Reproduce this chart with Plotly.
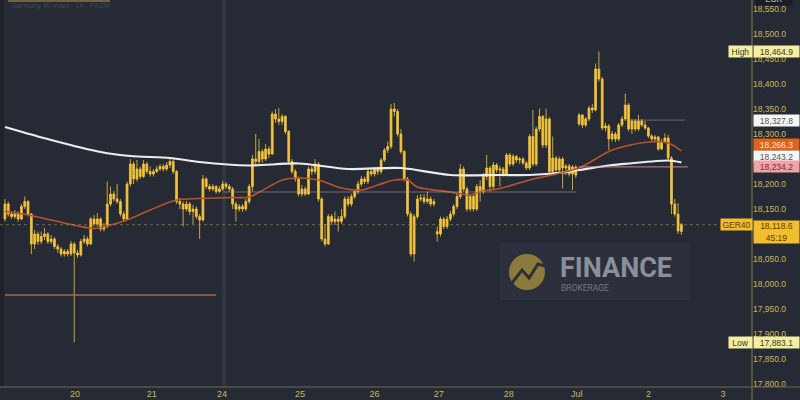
import plotly.graph_objects as go

# ---------------- data (hourly GER40 candles) ----------------
opens = [
    18130,18160,18140,18135,18140,18130,18155,18165,18140,18080,
    18100,18085,18095,18100,18085,18090,18075,18070,18060,18065,
    18060,18080,18062,18058,18085,18090,18080,18130,18120,18130,
    18110,18115,18160,18180,18170,18165,18140,18130,18200,18240,
    18210,18230,18215,18240,18225,18220,18225,18230,18235,18230,
    18238,18245,18225,18165,18160,18150,18160,18145,18150,18135,
    18128,18210,18195,18190,18195,18185,18190,18200,18195,18190,
    18160,18150,18155,18150,18165,18195,18250,18245,18265,18250,
    18270,18260,18340,18330,18325,18335,18305,18245,18225,18210,
    18180,18190,18180,18230,18225,18240,18170,18090,18080,18135,
    18125,18130,18125,18135,18170,18160,18175,18185,18200,18210,
    18205,18225,18220,18230,18225,18248,18268,18275,18350,18345,
    18300,18265,18210,18140,18060,18135,18170,18172,18165,18170,
    18160,18105,18100,18130,18115,18130,18140,18155,18175,18230,
    18190,18150,18175,18150,18195,18185,18215,18232,18195,18238,
    18228,18230,18220,18258,18240,18255,18248,18250,18242,18232,
    18295,18240,18310,18335,18278,18330,18225,18252,18228,18250,
    18232,18236,18220,18234,18320,18338,18318,18330,18352,18348,
    18430,18410,18312,18316,18290,18300,18290,18318,18330,18358,
    18310,18326,18310,18326,18318,18312,18296,18290,18294,18270,
    18285,18292,18252,18160,18140,18105,
]
highs = [
    18170,18165,18145,18148,18145,18160,18175,18168,18142,18108,
    18105,18105,18112,18104,18098,18094,18080,18074,18070,18070,
    18086,18084,18068,18090,18098,18095,18134,18138,18142,18134,
    18122,18205,18195,18186,18200,18170,18145,18205,18250,18245,
    18248,18235,18248,18244,18235,18230,18236,18240,18240,18244,
    18252,18250,18228,18172,18165,18166,18164,18158,18155,18140,
    18218,18214,18200,18200,18198,18196,18206,18204,18200,18194,
    18165,18160,18160,18170,18200,18258,18300,18290,18270,18280,
    18275,18345,18350,18352,18340,18338,18308,18250,18230,18215,
    18198,18195,18235,18236,18250,18244,18174,18120,18140,18140,
    18145,18136,18150,18175,18176,18180,18190,18206,18216,18215,
    18230,18230,18234,18235,18252,18272,18285,18360,18362,18350,
    18310,18268,18214,18145,18140,18178,18180,18180,18185,18175,
    18170,18115,18135,18134,18136,18146,18160,18180,18240,18235,
    18195,18180,18180,18200,18208,18222,18258,18236,18244,18242,
    18236,18234,18262,18262,18260,18258,18254,18254,18246,18300,
    18348,18315,18351,18338,18351,18334,18295,18256,18255,18254,
    18240,18240,18238,18238,18342,18340,18334,18356,18360,18441,
    18464.9,18414,18322,18320,18306,18304,18322,18336,18381,18362,
    18330,18330,18338,18330,18326,18314,18300,18298,18296,18290,
    18301,18298,18256,18170,18162,18122,
]
lows = [
    18125,18135,18130,18130,18125,18128,18150,18135,18060,18070,
    18078,18080,18088,18080,18080,18070,18062,18055,18055,18055,
    18056,17883.1,18052,18055,18080,18075,18078,18115,18115,18105,
    18105,18112,18155,18165,18160,18135,18125,18128,18195,18200,
    18205,18210,18212,18220,18215,18215,18222,18226,18225,18226,
    18232,18220,18160,18150,18115,18145,18138,18120,18130,18090,
    18125,18190,18185,18186,18180,18182,18186,18190,18185,18150,
    18125,18145,18144,18146,18160,18185,18238,18240,18242,18246,
    18252,18258,18322,18318,18318,18300,18240,18220,18205,18175,
    18175,18176,18178,18218,18220,18165,18085,18075,18078,18120,
    18118,18105,18120,18130,18155,18155,18170,18180,18195,18200,
    18200,18215,18215,18218,18220,18244,18262,18270,18335,18295,
    18260,18205,18135,18055,18045,18130,18165,18160,18160,18155,
    18155,18085,18095,18110,18110,18125,18135,18150,18170,18185,
    18145,18145,18145,18146,18165,18180,18208,18185,18190,18222,
    18195,18215,18216,18235,18236,18242,18240,18238,18228,18228,
    18235,18236,18305,18272,18272,18220,18220,18222,18224,18191,
    18218,18215,18188,18212,18316,18312,18314,18326,18342,18345,
    18405,18308,18305,18268,18285,18284,18286,18314,18326,18305,
    18300,18305,18306,18314,18308,18292,18286,18284,18266,18268,
    18282,18248,18140,18135,18100,18098,
]
closes = [
    18160,18140,18135,18140,18130,18155,18165,18140,18080,18100,
    18085,18095,18100,18085,18090,18075,18070,18060,18065,18060,
    18080,18062,18058,18085,18090,18080,18130,18120,18130,18110,
    18115,18160,18180,18170,18165,18140,18130,18200,18240,18210,
    18230,18215,18240,18225,18220,18225,18230,18235,18230,18238,
    18245,18225,18165,18160,18150,18160,18145,18150,18135,18128,
    18210,18195,18190,18195,18185,18190,18200,18195,18190,18160,
    18150,18155,18150,18165,18195,18250,18245,18265,18250,18270,
    18260,18340,18330,18325,18335,18305,18245,18225,18210,18180,
    18190,18180,18230,18225,18240,18170,18090,18080,18135,18125,
    18130,18125,18135,18170,18160,18175,18185,18200,18210,18205,
    18225,18220,18230,18225,18248,18268,18275,18350,18345,18300,
    18265,18210,18140,18060,18135,18170,18172,18165,18170,18160,
    18165,18100,18130,18115,18130,18140,18155,18175,18230,18190,
    18150,18175,18150,18195,18185,18215,18232,18195,18238,18228,
    18230,18220,18258,18240,18255,18248,18250,18242,18232,18295,
    18240,18310,18335,18278,18330,18225,18252,18228,18250,18232,
    18236,18220,18234,18218,18338,18318,18330,18352,18348,18430,
    18410,18312,18316,18290,18300,18290,18318,18330,18358,18310,
    18326,18310,18326,18318,18312,18296,18290,18294,18270,18285,
    18292,18252,18160,18140,18106,18118.6,
]
candle_idx = list(range(len(closes)))

# moving averages (read at sample candles)
ma_white_idx = [0, 14, 29, 38, 50, 59, 74, 89, 104, 120, 135, 150, 159, 169, 174, 184, 189, 201, 205]
ma_white_val = [18314, 18288, 18264, 18256, 18252, 18244, 18237, 18241, 18230, 18232, 18218,
                18218, 18218, 18223, 18228, 18238, 18241, 18247, 18243.2]
ma_orange_idx = [0, 7, 14, 23, 27, 32, 37, 44, 52, 59, 69, 74, 84, 89, 95, 102, 108, 113, 118,
                 122, 125, 135, 141, 144, 150, 159, 174, 184, 195, 201, 205]
ma_orange_val = [18145, 18138, 18128, 18115, 18111, 18118, 18128, 18148, 18168, 18171, 18173,
                 18174, 18208, 18212, 18208, 18192, 18188, 18198, 18208, 18208, 18194, 18184,
                 18178, 18185, 18191, 18208, 18232, 18268, 18284, 18282, 18266.3]

day_tick_idx = [21.2, 44.5, 65.8, 89.4, 112, 131.5, 152.7, 173.3, 195, 217.6]
day_tick_txt = ["20", "21", "24", "25", "26", "27", "28", "Jul", "2", "3"]

# price-scale ticks that are not hidden behind a value label
price_ticks = [17800, 17850, 17900, 17950, 18000, 18050, 18150, 18200, 18300,
               18350, 18400, 18450, 18500, 18550]

last_price = 18118.6
high_price = 18464.9
low_price = 17883.1
level_brown = 17978
level_grey = 18184
level_pink = 18234.2
level_white = 18327.8
ma_white_last = 18243.2
ma_orange_last = 18266.3

# ---------------- figure ----------------
W, H = 800, 400
ML, MR, MT, MB = 0, 48, 0, 13
PW, PH = W - ML - MR, H - MT - MB

def px(x):
    return x / PW

def py(y):
    return 1 - y / PH

BG = "#262a35"
GOLD = "#f4c53c"
TICK = "#cdb55a"

fig = go.Figure()

fig.add_trace(go.Scatter(x=ma_white_idx, y=ma_white_val, mode="lines",
                         line=dict(color="#ececec", width=2.2, shape="spline", smoothing=0.8),
                         hoverinfo="skip"))
fig.add_trace(go.Scatter(x=ma_orange_idx, y=ma_orange_val, mode="lines",
                         line=dict(color="#b9532b", width=1.6, shape="spline", smoothing=0.8),
                         hoverinfo="skip"))
fig.add_trace(go.Candlestick(
    x=candle_idx, open=opens, high=highs, low=lows, close=closes,
    increasing=dict(line=dict(color=GOLD, width=0.8), fillcolor=GOLD),
    decreasing=dict(line=dict(color=GOLD, width=0.8), fillcolor=GOLD),
    whiskerwidth=0,
))

shapes = []
# left darker strip
shapes.append(dict(type="rect", xref="paper", yref="paper", x0=0, x1=px(4), y0=0, y1=1,
                   fillcolor="#1f222b", line=dict(width=0), layer="below"))
# week separator
shapes.append(dict(type="rect", xref="x", yref="paper", x0=65.8, x1=67.0, y0=0, y1=1,
                   fillcolor="rgba(255,255,255,0.06)", line=dict(width=0), layer="below"))
# watermark panel
shapes.append(dict(type="rect", xref="paper", yref="paper", x0=px(500), x1=px(690),
                   y0=py(300), y1=py(243), fillcolor="rgba(70,75,90,0.2)",
                   line=dict(width=0), layer="below"))
shapes.append(dict(type="circle", xref="paper", yref="paper", x0=px(509), x1=px(545),
                   y0=py(290), y1=py(254), fillcolor="#8c7a3c", line=dict(width=0), layer="below"))
shapes.append(dict(type="path", xref="paper", yref="paper", layer="below",
                   path="M {},{} L {},{} L {},{} L {},{} L {},{}".format(
                       px(512), py(283), px(522), py(270), px(529), py(278),
                       px(538), py(264), px(545), py(266)),
                   line=dict(color="#2d2f35", width=3)))
# horizontal levels
shapes.append(dict(type="line", xref="x", yref="y", x0=0, x1=64, y0=level_brown, y1=level_brown,
                   line=dict(color="#9a6a55", width=1.5)))
shapes.append(dict(type="line", xref="x", yref="y", x0=66, x1=173, y0=level_grey, y1=level_grey,
                   line=dict(color="rgba(205,170,170,0.5)", width=1.2)))
shapes.append(dict(type="line", xref="x", yref="y", x0=174, x1=207, y0=level_pink, y1=level_pink,
                   line=dict(color="rgba(225,150,150,0.7)", width=1.2)))
shapes.append(dict(type="line", xref="x", yref="y", x0=189, x1=206, y0=level_white, y1=level_white,
                   line=dict(color="rgba(200,200,200,0.4)", width=1)))
shapes.append(dict(type="line", xref="paper", yref="y", x0=0, x1=1, y0=last_price, y1=last_price,
                   line=dict(color="rgba(200,170,70,0.5)", width=1, dash="dot")))
# axis lines
shapes.append(dict(type="line", xref="paper", yref="paper", x0=0, x1=W / PW, y0=0, y1=0,
                   line=dict(color="#6e6a50", width=1)))
shapes.append(dict(type="line", xref="paper", yref="paper", x0=1, x1=1, y0=-MB / PH, y1=1,
                   line=dict(color="#8a7a3c", width=1)))
# top-left header strip
shapes.append(dict(type="rect", xref="paper", yref="paper", x0=px(8), x1=px(110), y0=py(2), y1=1,
                   fillcolor="#6e6248", line=dict(width=0)))

ann = []
FONT = "Liberation Sans, Arial, sans-serif"

def value_box(yval, text, bg, fg, yshift=0, h=11):
    ann.append(dict(xref="paper", yref="y", x=1, y=yval, xanchor="left", yanchor="middle",
                    xshift=1, yshift=yshift, text=text, showarrow=False, bgcolor=bg,
                    width=45, height=h, borderpad=0, align="center",
                    font=dict(family=FONT, size=8.5, color=fg)))

def tag_box(yval, text, bg, fg, x0, w, yshift=0):
    ann.append(dict(xref="paper", yref="y", x=px(x0), y=yval, xanchor="left", yanchor="middle",
                    yshift=yshift, text=text, showarrow=False, bgcolor=bg, width=w, height=11,
                    borderpad=0, align="center", font=dict(family=FONT, size=8.5, color=fg)))

value_box(high_price, "{:,.1f}".format(high_price), "#f4eea0", "#3a3a2a")
tag_box(high_price, "High", "#f4eea0", "#3a3a2a", 728, 23)
value_box(level_white, "{:,.1f}".format(level_white), "#f5f5f5", "#555")
value_box(ma_orange_last, "{:,.1f}".format(ma_orange_last), "#e0621c", "#ffe2c8", yshift=6)
value_box(ma_white_last, "{:,.1f}".format(ma_white_last), "#f5f5f5", "#555", yshift=6)
value_box(level_pink, "{:,.1f}".format(level_pink), "#f0a2a8", "#7a2e2e")
ann.append(dict(xref="paper", yref="y", x=1, y=last_price, xanchor="left", yanchor="top",
                xshift=1, yshift=5, text="{:,.1f}<br>45:19".format(last_price), showarrow=False,
                bgcolor="#f2bd2f", width=45, height=22, borderpad=0, align="center",
                font=dict(family=FONT, size=8.5, color="#5a4300")))
tag_box(last_price, "GER40", "#f2bd2f", "#5a4300", 720, 31)
value_box(low_price, "{:,.1f}".format(low_price), "#f4eea0", "#3a3a2a")
tag_box(low_price, "Low", "#f4eea0", "#3a3a2a", 728, 23)
ann.append(dict(xref="paper", yref="paper", x=1, y=1, xanchor="left", yanchor="middle",
                xshift=3, yshift=1, text="EUR", showarrow=False, bgcolor="#1a1d24",
                width=36, height=11, borderpad=0, font=dict(family=FONT, size=8, color="#cfcfcf")))
# watermark text
ann.append(dict(xref="paper", yref="paper", x=px(558), y=py(268), xanchor="left", yanchor="middle",
                text="<b>FINANCE</b>", showarrow=False,
                font=dict(family="Roboto, Liberation Sans, sans-serif", size=27, color="#8a8f9a")))
ann.append(dict(xref="paper", yref="paper", x=px(559), y=py(288), xanchor="left", yanchor="middle",
                text="BROKERAGE", showarrow=False,
                font=dict(family="Roboto, Liberation Sans, sans-serif", size=8.5, color="#737884")))
ann.append(dict(xref="paper", yref="paper", x=px(10), y=py(6), xanchor="left", yanchor="middle",
                text="Germany 40 Index · 1h · FXCM", showarrow=False,
                font=dict(family=FONT, size=7, color="rgba(150,150,160,0.3)")))

fig.update_layout(
    width=W, height=H,
    margin=dict(l=ML, r=MR, t=MT, b=MB, autoexpand=False),
    paper_bgcolor=BG, plot_bgcolor=BG,
    showlegend=False, hovermode=False,
    boxgap=0.2,
    shapes=shapes, annotations=ann,
    xaxis=dict(range=[-1.5, 226.4], tickvals=day_tick_idx, ticktext=day_tick_txt,
               showgrid=False, zeroline=False, showline=False, ticks="", automargin=False,
               ticklabelstandoff=0,
               tickfont=dict(family=FONT, size=9, color=TICK),
               rangeslider=dict(visible=False), fixedrange=True),
    yaxis=dict(range=[17794, 18568], side="right", tickmode="array", tickvals=price_ticks,
               automargin=False,
               tickformat=",.1f", showgrid=False, zeroline=False, showline=False, ticks="",
               tickfont=dict(family=FONT, size=8.5, color=TICK), fixedrange=True),
)

fig.write_html(
    "out.html",
    config={"displayModeBar": False, "staticPlot": True},
    post_script="document.body.style.margin='0';document.body.style.overflow='hidden';"
                "document.body.style.background='" + BG + "';",
)
